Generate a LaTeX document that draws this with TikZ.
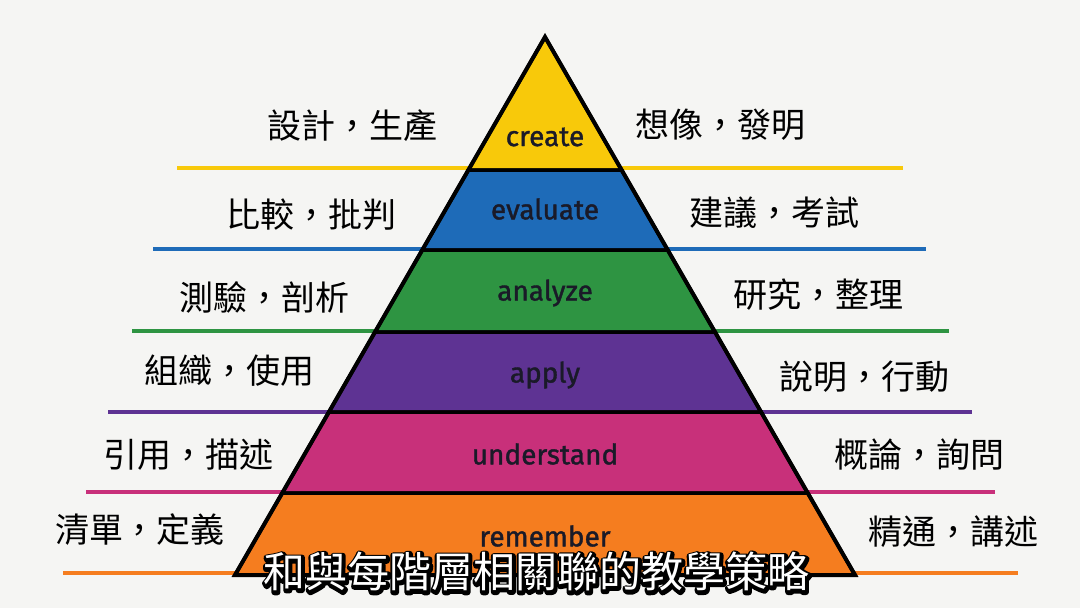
\documentclass[tikz,border=0pt]{standalone}
\usepackage{fontspec}
\newfontfamily\cjk{Noto Sans CJK TC}
\newfontfamily\lab[FakeBold=1.3]{Fira Sans}
\definecolor{bg}{HTML}{F5F5F3}
\definecolor{cY}{HTML}{F8C90A}
\definecolor{cB}{HTML}{1E6BB8}
\definecolor{cG}{HTML}{2E9442}
\definecolor{cP}{HTML}{5E3393}
\definecolor{cM}{HTML}{C8307A}
\definecolor{cO}{HTML}{F57D1F}
\definecolor{ink}{HTML}{1A1A28}
\newcommand{\strokeon}[1]{\special{pdf:literal direct 2 Tr #1 w 1 j 1 J 0 0 0 RG}}
\newcommand{\strokeoff}{\special{pdf:literal direct 0 Tr}}
\begin{document}
\begin{tikzpicture}[x=1pt,y=-1pt,
  bar/.style={line width=4pt},
  layer/.style={draw=black,line width=3.5pt,line join=miter},
  lvl/.style={font=\lab\fontsize{28}{28}\selectfont,text=ink,inner sep=0pt},
  side/.style={font=\cjk\fontsize{34}{34}\selectfont,text=black,inner sep=0pt},
  capt/.style={font=\cjk\fontsize{42}{42}\selectfont,inner sep=0pt}]
\fill[bg] (0,0) rectangle (1080,608);
\useasboundingbox (0,0) rectangle (1080,608);
% coloured bars
\draw[bar,cY] (177,168) -- (903,168);
\draw[bar,cB] (153,249) -- (926,249);
\draw[bar,cG] (132,331) -- (949,331);
\draw[bar,cP] (108,412) -- (972,412);
\draw[bar,cM] (86,492) -- (995,492);
\draw[bar,cO] (63,573) -- (1018,573);
% pyramid layers
\filldraw[layer,fill=cY] (545,37) -- (621.6,170) -- (468.4,170) -- cycle;
\filldraw[layer,fill=cB] (468.4,170) -- (621.6,170) -- (667.7,250) -- (422.3,250) -- cycle;
\filldraw[layer,fill=cG] (422.3,250) -- (667.7,250) -- (715,332) -- (375,332) -- cycle;
\filldraw[layer,fill=cP] (375,332) -- (715,332) -- (761.1,412) -- (328.9,412) -- cycle;
\filldraw[layer,fill=cM] (328.9,412) -- (761.1,412) -- (807.7,493) -- (282.3,493) -- cycle;
\filldraw[layer,fill=cO] (282.3,493) -- (807.7,493) -- (855,575) -- (235,575) -- cycle;
\draw[layer,line width=4pt] (545,37) -- (855,575) -- (235,575) -- cycle;
% level labels
\node[lvl] (l1) at (545,137) {create};
\node[lvl] (l2) at (545,209) {evaluate};
\node[lvl] (l3) at (545,293) {analyze};
\node[lvl] (l4) at (545,375) {apply};
\node[lvl] (l5) at (545,454) {understand};
\node[lvl] (l6) at (545,536) {remember};
% left labels
\node[side] (a1) at (352,126) {設計，生產};
\node[side] (a2) at (311,215) {比較，批判};
\node[side] (a3) at (264,297) {測驗，剖析};
\node[side] (a4) at (229,371) {組織，使用};
\node[side] (a5) at (188,455) {引用，描述};
\node[side] (a6) at (140,530) {清單，定義};
% right labels
\node[side] (b1) at (720,125) {想像，發明};
\node[side] (b2) at (774,213) {建議，考試};
\node[side] (b3) at (818,295) {研究，整理};
\node[side] (b4) at (864,377) {說明，行動};
\node[side] (b5) at (919,455) {概論，詢問};
\node[side] (b6) at (953,532) {精通，講述};
% caption: black stroked copy under a white copy
\node[capt,text=black] (cs) at (537,573) {\strokeon{6}和與每階層相關聯的教學策略\strokeoff};
\node[capt,text=white] (cap) at (536,572) {和與每階層相關聯的教學策略};
\end{tikzpicture}
\end{document}
